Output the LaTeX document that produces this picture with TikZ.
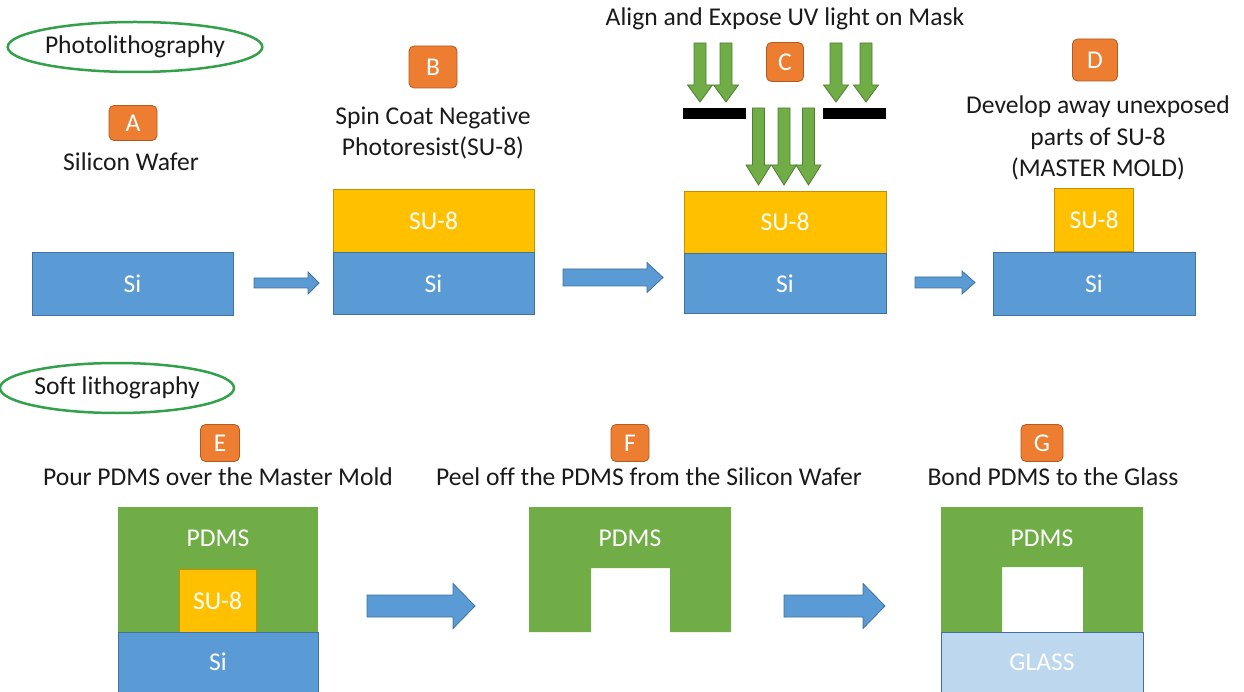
\documentclass[tikz,border=0pt]{standalone}
\usepackage{fontspec}
\setmainfont{Carlito}[Ligatures=NoCommon]
\usepackage{tikz}
\usetikzlibrary{shapes.geometric,positioning,calc}
\definecolor{ink}{HTML}{1A1A1A}
\definecolor{siblue}{HTML}{5B9BD5}
\definecolor{siedge}{HTML}{41719C}
\definecolor{su8}{HTML}{FFC000}
\definecolor{su8edge}{HTML}{BF9000}
\definecolor{pdms}{HTML}{70AD47}
\definecolor{pdmsedge}{HTML}{507E32}
\definecolor{tagorange}{HTML}{ED7D31}
\definecolor{tagedge}{HTML}{AE5A21}
\definecolor{glass}{HTML}{BDD7EE}
\definecolor{ring}{HTML}{33A04B}
\newcommand\bigtext{\fontsize{25.6}{31.5}\selectfont}
% block arrow: start, tip, shaft half width, head half width, head length
\newcommand\blockarrow[5]{\path[flow] let \p1=(#1),\p2=(#2) in (\x1,\y1+#3)--(\x2-#5,\y1+#3)--(\x2-#5,\y1+#4)--(\x2,\y1)--(\x2-#5,\y1-#4)--(\x2-#5,\y1-#3)--(\x1,\y1-#3)--cycle;}
% downward uv arrow: top, tip, shaft half width, head half width, head length
\newcommand\uvarrow[5]{\path[uv] let \p1=(#1),\p2=(#2) in (\x1-#3,\y1)--(\x1-#3,\y2+#5)--(\x1-#4,\y2+#5)--(\x1,\y2)--(\x1+#4,\y2+#5)--(\x1+#3,\y2+#5)--(\x1+#3,\y1)--cycle;}
\begin{document}
\begin{tikzpicture}[x=1pt,y=-1pt,
  every node/.style={font=\bigtext,text=ink},
  layer/.style={rectangle,inner sep=0pt,text=white},
  si/.style={layer,fill=siblue,draw=siedge,line width=.8pt},
  su/.style={layer,fill=su8,draw=su8edge,line width=.8pt},
  tag/.style={rectangle,rounded corners=5pt,fill=tagorange,draw=tagedge,line width=.8pt,text=white,minimum width=42pt,minimum height=38pt,inner sep=0pt},
  stage/.style={ellipse,draw=ring,line width=2.5pt,inner sep=0pt},
  flow/.style={fill=siblue,draw=siedge,line width=.8pt},
  uv/.style={fill=pdms,draw=pdmsedge,line width=.8pt},
  note/.style={align=center}]
\useasboundingbox (0,0) rectangle (1244,692);
% photolithography row
\node[stage,minimum width=234pt,minimum height=50pt] (photo) at (135,47) {Photolithography};
\node[tag,minimum width=48pt,minimum height=35pt] (tagA) at (133,123) {A};
\node (noteA) at (131,162) {Silicon Wafer};
\node[si,minimum width=201pt,minimum height=63pt] (siA) at (132.5,283.5) {Si};
\node[tag,minimum width=48pt,minimum height=42pt] (tagB) at (433,67) {B};
\node[note] (noteB) at (433,133) {Spin Coat Negative\\Photoresist(SU-8)};
\node[su,minimum width=201pt,minimum height=63pt] (suB) at (433.5,220.5) {SU-8};
\node[si,minimum width=201pt,minimum height=62pt,below=0pt of suB] (siB) {Si};
\node (noteC) at (785,19) {Align and Expose UV light on Mask};
\node[tag,minimum width=37pt,minimum height=39pt] (tagC) at (785,62) {C};
\fill[black] (683,108) rectangle (746,119);\fill[black] (823,108) rectangle (886,119);
\foreach \ux in {700,726,836,866} {\uvarrow{\ux,43}{\ux,102}{6pt}{12.5pt}{17pt}}
\foreach \ux in {758.5,784,808.5} {\uvarrow{\ux,108}{\ux,185}{6pt}{12.5pt}{20pt}}
\node[su,minimum width=202pt,minimum height=62pt] (suC) at (785,222) {SU-8};
\node[si,minimum width=202pt,minimum height=60pt,below=0pt of suC] (siC) {Si};
\node[tag,minimum width=45pt,minimum height=42pt] (tagD) at (1095,60) {D};
\node[note] (noteD) at (1098,138) {Develop away unexposed\\parts of SU-8\\(MASTER MOLD)};
\node[si,minimum width=202pt,minimum height=63pt] (siD) at (1094,283.5) {Si};
\node[su,minimum width=79pt,minimum height=63pt,above=0pt of siD] (suD) {SU-8};
\coordinate (a1) at (254,283);\coordinate (a2) at (319,283);\blockarrow{a1}{a2}{5pt}{11pt}{11pt}
\coordinate (b1) at (563,277.5);\coordinate (b2) at (663,277.5);\blockarrow{b1}{b2}{8.5pt}{15pt}{16pt}
\coordinate (c1) at (915,282.5);\coordinate (c2) at (975,282.5);\blockarrow{c1}{c2}{5.5pt}{11.5pt}{13pt}
% soft lithography row
\node[stage,minimum width=220pt,minimum height=50pt] (soft) at (117,388) {Soft lithography};
\node[tag,minimum width=39pt,minimum height=37pt] (tagE) at (220,443) {E};
\node (noteE) at (218,477) {Pour PDMS over the Master Mold};
\node[layer,fill=pdms,minimum width=200pt,minimum height=125pt] (pdmsE) at (218,569.5) {};
\node[text=white] (labE) at (218,538) {PDMS};
\node[su,minimum width=77pt,minimum height=63pt] (suE) at (217.5,600.5) {SU-8};
\node[si,minimum width=200pt,minimum height=60pt] (siE) at (218,662) {Si};
\node[tag,minimum width=38pt,minimum height=37pt] (tagF) at (630,443) {F};
\node (noteF) at (649,477) {Peel off the PDMS from the Silicon Wafer};
\fill[pdms] (529,507)--(731,507)--(731,632)--(670,632)--(670,568)--(591,568)--(591,632)--(529,632)--cycle;
\node[text=white] (labF) at (630,538) {PDMS};
\node[tag,minimum width=42pt,minimum height=37pt] (tagG) at (1042,443) {G};
\node (noteG) at (1053,477) {Bond PDMS to the Glass};
\fill[pdms] (941,507)--(1143,507)--(1143,632)--(1083,632)--(1083,567)--(1002,567)--(1002,632)--(941,632)--cycle;
\node[text=white] (labG) at (1042,538) {PDMS};
\node[layer,fill=glass,draw=siedge,line width=.8pt,minimum width=202pt,minimum height=60pt] (glassG) at (1042,662) {GLASS};
\coordinate (e1) at (367,606);\coordinate (e2) at (475,606);\blockarrow{e1}{e2}{11pt}{22.5pt}{22pt}
\coordinate (f1) at (784,606);\coordinate (f2) at (885,606);\blockarrow{f1}{f2}{11pt}{22.5pt}{22pt}
\end{tikzpicture}
\end{document}
